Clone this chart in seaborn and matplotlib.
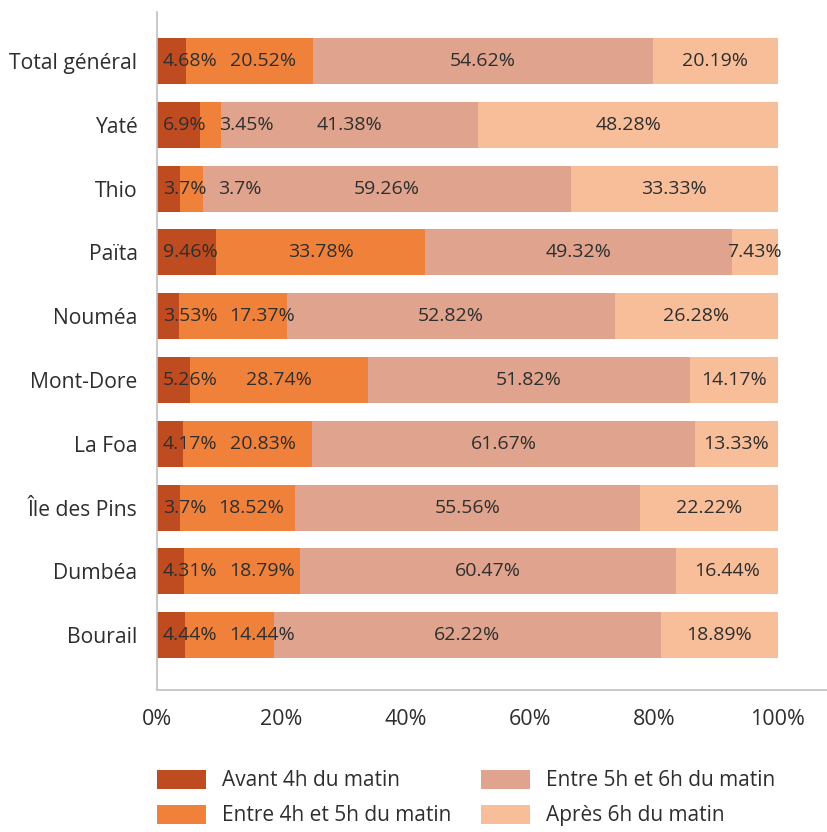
import matplotlib
matplotlib.use('Agg')
import matplotlib.pyplot as plt
import seaborn as sns
import numpy as np
from matplotlib.patches import Patch

# Data (percent of respondents per time slot)
communes = ['Total général', 'Yaté', 'Thio', 'Païta', 'Nouméa', 'Mont-Dore',
            'La Foa', 'Île des Pins', 'Dumbéa', 'Bourail']
avant_4h = [4.68, 6.9, 3.7, 9.46, 3.53, 5.26, 4.17, 3.7, 4.31, 4.44]
entre_4_5 = [20.52, 3.45, 3.7, 33.78, 17.37, 28.74, 20.83, 18.52, 18.79, 14.44]
entre_5_6 = [54.62, 41.38, 59.26, 49.32, 52.82, 51.82, 61.67, 55.56, 60.47, 62.22]
apres_6h = [20.19, 48.28, 33.33, 7.43, 26.28, 14.17, 13.33, 22.22, 16.44, 18.89]

series_names = ['Avant 4h du matin', 'Entre 4h et 5h du matin',
                'Entre 5h et 6h du matin', 'Après 6h du matin']
colors = ['#BF4B20', '#F0813A', '#E0A38D', '#F8BE99']

sns.set_style('white')
plt.rcParams['font.family'] = ['Open Sans', 'DejaVu Sans']
text_color = '#2E2E2E'

series = np.array([avant_4h, entre_4_5, entre_5_6, apres_6h]) / 100.0
cum = np.cumsum(series, axis=0)
lefts = cum - series

fig = plt.figure(figsize=(8.27, 8.32), dpi=100)
ax = fig.add_axes([157 / 827, 1 - 690 / 832, 670 / 827, 678 / 832])

# stacked bars: draw the cumulative totals from the widest down
for k in range(3, -1, -1):
    sns.barplot(x=cum[k], y=communes, color=colors[k], orient='h',
                width=0.72, saturation=1, errorbar=None, ax=ax, linewidth=0)

ax.set_xlim(0, 1.079)
ax.set_ylim(9.86, -0.77)
ax.set_xticks([0, 0.2, 0.4, 0.6, 0.8, 1.0])
ax.set_xticklabels(['0%', '20%', '40%', '60%', '80%', '100%'])
ax.set_xlabel('')
ax.set_ylabel('')
ax.tick_params(axis='x', direction='in', length=11, width=1, color='#C8C8C8',
               labelsize=15.5, labelcolor=text_color, pad=14)
ax.tick_params(axis='y', length=0, labelsize=15.2, labelcolor=text_color, pad=14)
for side in ['top', 'right']:
    ax.spines[side].set_visible(False)
for side in ['left', 'bottom']:
    ax.spines[side].set_color('#C0C0C0')
    ax.spines[side].set_linewidth(1.2)

# value labels, pushed right when they would overlap
fig.canvas.draw()
renderer = fig.canvas.get_renderer()
gap = 12
for i in range(len(communes)):
    prev_right = None
    for k in range(4):
        val = series[k, i]
        centre = lefts[k, i] + val / 2
        label = f'{val * 100:.2f}'.rstrip('0').rstrip('.') + '%'
        t = ax.text(centre, i, label, ha='center', va='center',
                    fontsize=14, color=text_color)
        bb = t.get_window_extent(renderer)
        seg_left_px = ax.transData.transform((lefts[k, i], i))[0]
        x0 = bb.x0
        if k == 0 and x0 < seg_left_px + 6:
            x0 = seg_left_px + 6
        if prev_right is not None and x0 < prev_right + gap:
            x0 = prev_right + gap
        if x0 != bb.x0:
            new_x = ax.transData.inverted().transform((x0, 0))[0]
            t.set_x(new_x)
            t.set_ha('left')
        prev_right = x0 + bb.width

handles = [Patch(facecolor=c, edgecolor='none') for c in colors]
fig.legend(handles, series_names, loc='upper left',
           bbox_to_anchor=(157 / 827, 1 - 770 / 832), ncol=2, frameon=False,
           fontsize=15, labelcolor=text_color, handlelength=2.35,
           handleheight=1.0, handletextpad=0.75, columnspacing=1.45,
           labelspacing=0.65, borderpad=0, borderaxespad=0)

fig.savefig('out.png', dpi=100)
